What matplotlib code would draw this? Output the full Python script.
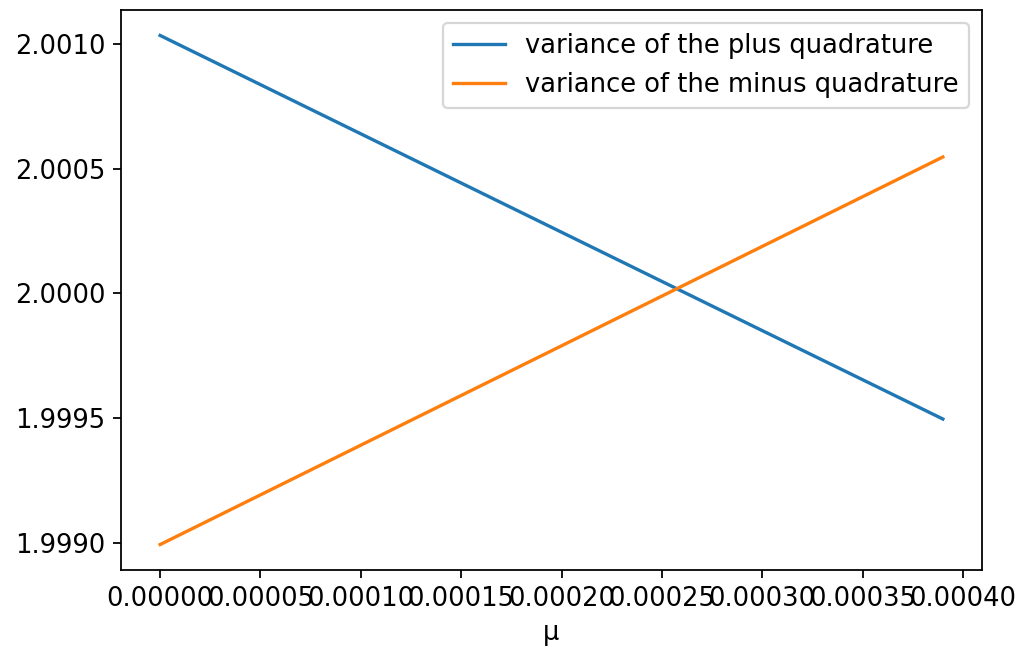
import matplotlib
matplotlib.use('Agg')
import matplotlib.pyplot as plt
from matplotlib.ticker import MultipleLocator

mu = [0.0, 0.0001, 0.0002, 0.0003, 0.00039]
var_plus = [2.001036, 2.000641, 2.000246, 1.999851, 1.999496]
var_minus = [1.998992, 1.999391, 1.999790, 2.000189, 2.000548]

plt.rcParams['font.size'] = 11.6

fig = plt.figure(figsize=(1021 / 160, 657 / 160), dpi=160)
ax = fig.add_axes([121 / 1021, 1 - 570 / 657, (982 - 121) / 1021, (570 - 10) / 657])

ax.plot(mu, var_plus, label='variance of the plus quadrature')
ax.plot(mu, var_minus, label='variance of the minus quadrature')
ax.yaxis.set_major_locator(MultipleLocator(0.0005))
ax.xaxis.set_major_locator(MultipleLocator(0.00005))
ax.set_xlabel('μ')
ax.legend()

fig.savefig('out.png', dpi=160)
